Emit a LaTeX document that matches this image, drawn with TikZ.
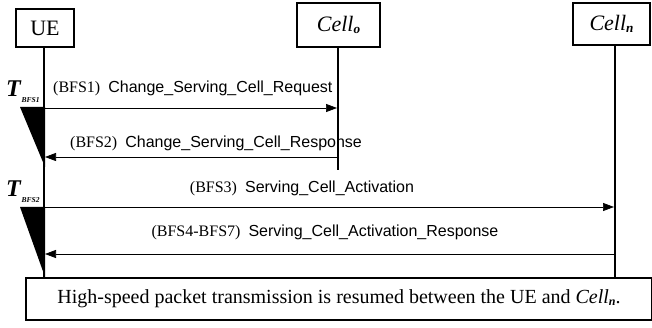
\documentclass[tikz,border=0pt]{standalone}
\usepackage{fontspec}
\setmainfont{Liberation Serif}
\newfontfamily\msgfont{Liberation Sans}
\usetikzlibrary{arrows.meta}
\tikzset{
  entity/.style={draw, line width=1.8pt, fill=white, inner sep=0pt, font=\fontsize{22}{24}\selectfont},
  lifeline/.style={line width=2.4pt},
  msg/.style={line width=0.7pt, -{Triangle[length=11pt,width=8pt]}},
  msglabel/.style={anchor=base, inner sep=0pt, font=\fontsize{16}{18}\selectfont},
  timer/.style={fill=black},
  tlabel/.style={anchor=base west, inner sep=0pt}
}
\newcommand{\tag}[1]{\textrm{#1}\hspace{8pt}}
\newcommand{\cellname}[1]{\textit{Cell}\raisebox{-2pt}{\scalebox{0.6}{\textit{\textbf{#1}}}}}
\begin{document}
\begin{tikzpicture}[x=1pt,y=-1pt]
\useasboundingbox (0,0) rectangle (652,328);

% entities
\node[entity, minimum width=58pt, minimum height=38pt] (ue) at (45,28) {UE};
\node[entity, minimum width=83pt, minimum height=44pt] (co) at (338.5,25) {\cellname{o}};
\node[entity, minimum width=77pt, minimum height=42pt] (cn) at (611.5,24) {\cellname{n}};

% points on the lifelines
\coordinate (ueTop) at (44,47);
\coordinate (ueEnd) at (44,278);
\coordinate (coTop) at (338,47);
\coordinate (coEnd) at (338,170);
\coordinate (cnTop) at (615,45);
\coordinate (cnEnd) at (615,278);

\draw[lifeline] (ueTop) -- (ueEnd);
\draw[lifeline] (coTop) -- (coEnd);
\draw[lifeline] (cnTop) -- (cnEnd);

% timers
\coordinate (t1a) at (20,107);
\coordinate (t1b) at (45,107);
\coordinate (t1c) at (45,167);
\fill[timer] (t1a) -- (t1b) -- (t1c) -- cycle;
\coordinate (t2a) at (20,207);
\coordinate (t2b) at (45,207);
\coordinate (t2c) at (45,277);
\fill[timer] (t2a) -- (t2b) -- (t2c) -- cycle;

\node[tlabel] (T1) at (6,97) {\fontsize{24}{26}\selectfont\textit{\textbf{T}}\raisebox{-6pt}{\fontsize{7.5}{8}\selectfont\textit{\textbf{BFS1}}}};
\node[tlabel] (T2) at (6,197) {\fontsize{24}{26}\selectfont\textit{\textbf{T}}\raisebox{-6pt}{\fontsize{7.5}{8}\selectfont\textit{\textbf{BFS2}}}};

% messages
\coordinate (m1s) at (45,108);
\coordinate (m1e) at (337,108);
\draw[msg] (m1s) -- (m1e);
\node[msglabel, anchor=base west] (l1) at (53,93) {\tag{(BFS1)}{\msgfont Change\_Serving\_Cell\_Request}};

\coordinate (m2s) at (337,157);
\coordinate (m2e) at (45,157);
\draw[msg] (m2s) -- (m2e);
\node[msglabel, anchor=base west] (l2) at (70,148) {\tag{(BFS2)}{\msgfont Change\_Serving\_Cell\_Response}};

\coordinate (m3s) at (45,207);
\coordinate (m3e) at (614,207);
\draw[msg] (m3s) -- (m3e);
\node[msglabel] (l3) at (302,193) {\tag{(BFS3)}{\msgfont Serving\_Cell\_Activation}};

\coordinate (m4s) at (614,254);
\coordinate (m4e) at (45,254);
\draw[msg] (m4s) -- (m4e);
\node[msglabel] (l4) at (325,237) {\tag{(BFS4-BFS7)}{\msgfont Serving\_Cell\_Activation\_Response}};

% closing note
\node[draw, line width=1.8pt, fill=white, minimum width=626pt, minimum height=42pt, inner sep=0pt,
      font=\fontsize{20}{24}\selectfont] (note) at (339,299)
  {High-speed packet transmission is resumed between the UE and \cellname{n}.};
\end{tikzpicture}
\end{document}
